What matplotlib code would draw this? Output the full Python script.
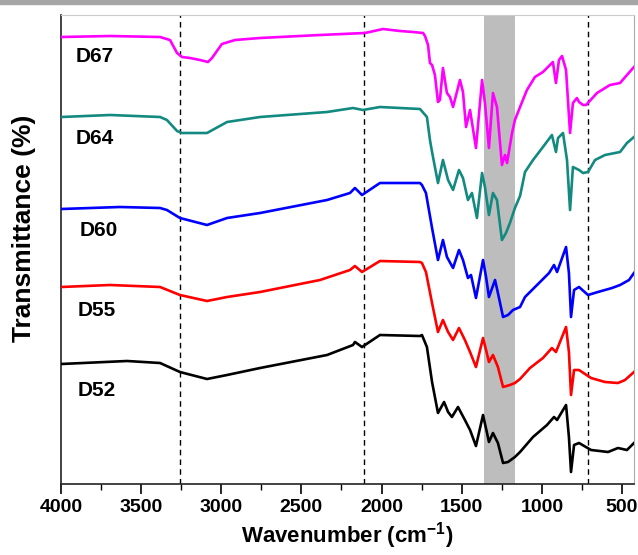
import matplotlib
matplotlib.use("Agg")
from matplotlib import pyplot as plt
from matplotlib.patches import Rectangle
from matplotlib.ticker import MultipleLocator

plt.rcParams["font.family"] = ["Liberation Sans", "DejaVu Sans"]
plt.rcParams["font.weight"] = "bold"
plt.rcParams["mathtext.fontset"] = "custom"
plt.rcParams["mathtext.rm"] = "Liberation Sans:bold"
plt.rcParams["mathtext.bf"] = "Liberation Sans:bold"

# wavenumbers (cm-1) and transmittance (offset, a.u.)
wn_d67 = [4000, 3694, 3382, 3320, 3276, 3245, 3195, 3133, 3083, 3058,
          2996, 2914, 2758, 2384, 2103, 1991, 1885, 1804, 1741, 1729,
          1710, 1698, 1685, 1667, 1648, 1636, 1617, 1592, 1573, 1554,
          1511, 1492, 1473, 1448, 1411, 1373, 1355, 1330, 1305, 1280,
          1249, 1230, 1217, 1186, 1168, 1136, 1093, 1043, 993, 931,
          912, 893, 874, 849, 824, 806, 781, 768, 743, 724,
          656, 575, 512, 469, 425]
t_d67 = [447, 448, 447, 444, 431, 427, 426, 424, 422, 426,
         440, 444, 446, 449, 451, 455, 453, 452, 451, 448,
         439, 421, 419, 409, 382, 384, 416, 391, 387, 377,
         404, 392, 357, 374, 336, 404, 381, 336, 391, 377,
         319, 329, 321, 351, 364, 377, 394, 407, 412, 422,
         401, 424, 428, 414, 351, 381, 386, 382, 379, 379,
         391, 399, 401, 409, 417]

wn_d64 = [4000, 3694, 3382, 3339, 3276, 3245, 3089, 2964, 2758, 2340,
          2178, 2116, 2010, 1760, 1717, 1698, 1685, 1648, 1617, 1585,
          1554, 1517, 1492, 1461, 1436, 1405, 1373, 1355, 1330, 1305,
          1280, 1249, 1224, 1199, 1168, 1136, 1105, 1055, 993, 937,
          912, 899, 868, 843, 824, 806, 768, 743, 712, 668,
          606, 512, 469, 425]
t_d64 = [367, 369, 367, 364, 353, 351, 351, 362, 367, 372,
         376, 374, 377, 375, 367, 344, 332, 301, 324, 304,
         294, 314, 306, 284, 291, 266, 311, 297, 269, 291,
         284, 244, 251, 261, 276, 288, 312, 324, 337, 349,
         332, 346, 351, 324, 274, 317, 314, 311, 312, 324,
         329, 332, 341, 347]

wn_d60 = [4000, 3632, 3382, 3339, 3258, 3089, 2964, 2758, 2340, 2197,
          2166, 2122, 2010, 1760, 1748, 1723, 1685, 1648, 1617, 1592,
          1554, 1517, 1492, 1461, 1442, 1411, 1367, 1348, 1330, 1292,
          1274, 1242, 1211, 1180, 1136, 1105, 1030, 955, 924, 905,
          849, 831, 818, 799, 768, 712, 650, 562, 512, 456,
          425]
t_d60 = [275, 277, 276, 274, 266, 259, 266, 271, 284, 291,
         296, 289, 301, 301, 299, 291, 256, 224, 244, 227,
         216, 234, 224, 206, 209, 186, 224, 207, 187, 204,
         191, 167, 169, 174, 177, 187, 199, 211, 219, 212,
         237, 211, 167, 194, 197, 189, 192, 196, 199, 204,
         211]

wn_d55 = [4000, 3694, 3382, 3258, 3089, 2964, 2758, 2384, 2197, 2166,
          2122, 2010, 1760, 1748, 1723, 1685, 1648, 1617, 1585, 1554,
          1517, 1480, 1448, 1411, 1367, 1348, 1330, 1305, 1274, 1242,
          1199, 1168, 1136, 1074, 993, 937, 912, 849, 831, 818,
          799, 768, 693, 606, 525, 481, 425]
t_d55 = [197, 199, 197, 189, 183, 187, 192, 204, 214, 218,
         212, 223, 222, 221, 212, 181, 152, 164, 152, 144,
         156, 144, 132, 117, 146, 134, 122, 129, 117, 97,
         99, 101, 105, 116, 126, 136, 132, 157, 132, 89,
         114, 114, 106, 102, 101, 104, 112]

wn_d52 = [4000, 3588, 3382, 3258, 3089, 2964, 2758, 2340, 2178, 2166,
          2122, 2010, 1760, 1748, 1717, 1685, 1648, 1610, 1585, 1561,
          1523, 1480, 1448, 1411, 1367, 1342, 1330, 1305, 1274, 1242,
          1211, 1168, 1136, 1055, 968, 924, 905, 849, 831, 818,
          799, 768, 693, 587, 525, 469, 425]
t_d52 = [120, 123, 121, 112, 105, 109, 116, 129, 139, 142,
         137, 149, 148, 149, 137, 102, 71, 82, 72, 67,
         77, 64, 54, 38, 69, 51, 42, 51, 41, 21,
         22, 27, 32, 47, 59, 67, 64, 79, 47, 12,
         39, 41, 34, 32, 36, 34, 41]

names = ["D67", "D64", "D60", "D55", "D52"]
colors = ["#ff00ff", "#138a80", "#0000ff", "#ff0000", "#000000"]
marks = [3260, 2108, 715]
band = (1358, 1170)

fig = plt.figure(figsize=(6.38, 5.55), dpi=100)
ax = fig.add_axes([61 / 638, 1 - 484 / 555, 573 / 638, 469 / 555])
fig.patches.append(Rectangle((0, 1 - 4 / 555), 1, 4 / 555, transform=fig.transFigure,
                             color="#a6a6a6", zorder=0))

ax.axvspan(band[0], band[1], color="#bdbdbd", lw=0, zorder=1)
for m in marks:
    ax.axvline(m, color="black", ls=(0, (4, 3)), lw=1.0, zorder=2)

series = [(wn_d67, t_d67), (wn_d64, t_d64), (wn_d60, t_d60), (wn_d55, t_d55), (wn_d52, t_d52)]
for (wn, t), c in zip(series, colors):
    ax.plot(wn, t, color=c, lw=1.9, zorder=3, solid_joinstyle="round")

label_pos = [(3906, 427), (3906, 346), (3881, 254), (3894, 174), (3894, 94)]
for (x, y), n in zip(label_pos, names):
    ax.text(x, y, n, fontsize=15, fontweight="bold", va="center", ha="left")

ax.set_xlim(4000, 425)
ax.set_ylim(0, 469)
ax.xaxis.set_major_locator(MultipleLocator(500))
ax.xaxis.set_minor_locator(MultipleLocator(250))
ax.tick_params(axis="x", which="major", direction="out", length=7, width=1.2,
               labelsize=14, pad=4)
ax.tick_params(axis="x", which="minor", direction="out", length=4, width=1.0)
ax.set_yticks([])
for lbl in ax.get_xticklabels():
    lbl.set_fontweight("bold")

ax.spines["left"].set_color("#222222")
ax.spines["left"].set_linewidth(1.2)
ax.spines["bottom"].set_color("#222222")
ax.spines["bottom"].set_linewidth(1.2)
ax.spines["top"].set_color("#cccccc")
ax.spines["right"].set_color("#aaaaaa")

ax.set_xlabel("Wavenumber (cm$^{\\mathbf{-1}}$)", fontsize=16, fontweight="bold", labelpad=3)
ax.set_ylabel("Transmittance (%)", fontsize=19, fontweight="bold")
ax.yaxis.set_label_coords(-0.044, 0.546)

fig.savefig("out.png", dpi=100)
